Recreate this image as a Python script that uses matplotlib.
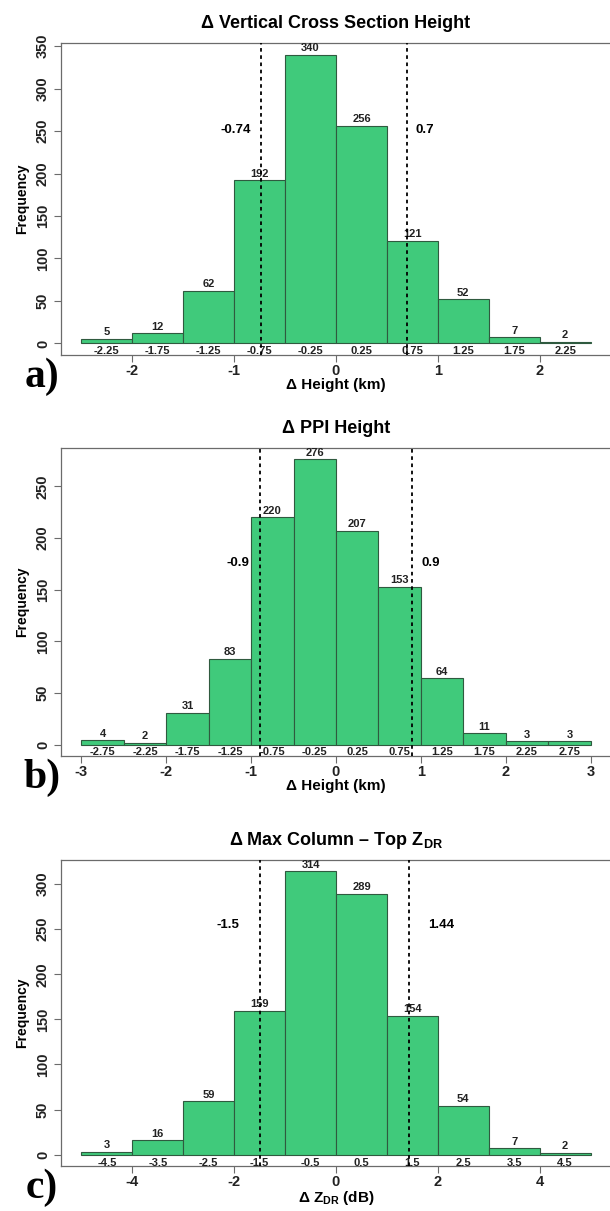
import matplotlib
matplotlib.use("Agg")
import matplotlib.pyplot as plt
import numpy as np

plt.rcParams['font.family'] = ['Liberation Sans', 'DejaVu Sans']
plt.rcParams['font.weight'] = 'bold'
plt.rcParams['mathtext.fontset'] = 'custom'
plt.rcParams['mathtext.rm'] = 'Liberation Sans:bold'
plt.rcParams['mathtext.it'] = 'Liberation Sans:bold'
plt.rcParams['mathtext.bf'] = 'Liberation Sans:bold'

# ---- data -------------------------------------------------------------
edges_a = [-2.5, -2.0, -1.5, -1.0, -0.5, 0.0, 0.5, 1.0, 1.5, 2.0, 2.5]
counts_a = [5, 12, 62, 192, 340, 256, 121, 52, 7, 2]
bin_labels_a = ["-2.25", "-1.75", "-1.25", "-0.75", "-0.25", "0.25", "0.75", "1.25", "1.75", "2.25"]
bounds_a = [-0.74, 0.7]
bound_labels_a = ["-0.74", "0.7"]
xticks_a = [-2, -1, 0, 1, 2]
yticks_a = [0, 50, 100, 150, 200, 250, 300, 350]

edges_b = [-3.0, -2.5, -2.0, -1.5, -1.0, -0.5, 0.0, 0.5, 1.0, 1.5, 2.0, 2.5, 3.0]
counts_b = [4, 2, 31, 83, 220, 276, 207, 153, 64, 11, 3, 3]
bin_labels_b = ["-2.75", "-2.25", "-1.75", "-1.25", "-0.75", "-0.25", "0.25", "0.75",
                "1.25", "1.75", "2.25", "2.75"]
bounds_b = [-0.9, 0.9]
bound_labels_b = ["-0.9", "0.9"]
xticks_b = [-3, -2, -1, 0, 1, 2, 3]
yticks_b = [0, 50, 100, 150, 200, 250]

edges_c = [-5, -4, -3, -2, -1, 0, 1, 2, 3, 4, 5]
counts_c = [3, 16, 59, 159, 314, 289, 154, 54, 7, 2]
bin_labels_c = ["-4.5", "-3.5", "-2.5", "-1.5", "-0.5", "0.5", "1.5", "2.5", "3.5", "4.5"]
bounds_c = [-1.5, 1.44]
bound_labels_c = ["-1.5", "1.44"]
xticks_c = [-4, -2, 0, 2, 4]
yticks_c = [0, 50, 100, 150, 200, 250, 300]

titles = ["\u0394 Vertical Cross Section Height",
          "\u0394 PPI Height",
          "\u0394 Max Column \u2013 Top Z$_{\\mathrm{DR}}$"]
xlabels = ["\u0394 Height (km)", "\u0394 Height (km)", "\u0394 Z$_{\\mathrm{DR}}$ (dB)"]
panel_tags = ["a)", "b)", "c)"]

# ---- layout (pixels) ---------------------------------------------------
W, H = 610, 1211
BAR_COLOR = "#40CA7B"
EDGE_COLOR = "#2F5A3F"
FRAME_COLOR = "#6B6B6B"

fig = plt.figure(figsize=(W / 100, H / 100), dpi=100)


def rect(left, top, right, bottom):
    return [left / W, 1 - bottom / H, (right - left) / W, (bottom - top) / H]


panels = [
    dict(edges=edges_a, counts=counts_a, blabels=bin_labels_a, bounds=bounds_a,
         bound_labels=bound_labels_a, xticks=xticks_a, yticks=yticks_a,
         box=(61, 43, 611, 355), label_y=251, lab_gap=0.09),
    dict(edges=edges_b, counts=counts_b, blabels=bin_labels_b, bounds=bounds_b,
         bound_labels=bound_labels_b, xticks=xticks_b, yticks=yticks_b,
         box=(61, 448, 611, 756), label_y=176, lab_gap=0.1),
    dict(edges=edges_c, counts=counts_c, blabels=bin_labels_c, bounds=bounds_c,
         bound_labels=bound_labels_c, xticks=xticks_c, yticks=yticks_c,
         box=(61, 860, 611, 1166), label_y=254, lab_gap=0.2),
]

for i, p in enumerate(panels):
    ax = fig.add_axes(rect(*p["box"]))
    edges = np.array(p["edges"], dtype=float)
    counts = np.array(p["counts"], dtype=float)
    widths = np.diff(edges)
    centers = edges[:-1] + widths / 2

    ax.bar(edges[:-1], counts, width=widths, align="edge",
           color=BAR_COLOR, edgecolor=EDGE_COLOR, linewidth=0.8, zorder=2)

    # R-style 4% padding on both axes
    span = edges[-1] - edges[0]
    ax.set_xlim(edges[0] - 0.04 * span, edges[-1] + 0.04 * span)
    ymax = counts.max()
    ax.set_ylim(-0.04 * ymax, 1.04 * ymax)

    # counts above bars, bin centres just under the baseline
    for x, c in zip(centers, counts):
        ax.text(x, c + 0.006 * ymax, f"{int(c)}", ha="center", va="bottom",
                fontsize=8, fontweight="bold", color="#222222", zorder=3)
    for x, lab in zip(centers, p["blabels"]):
        ax.text(x, -0.01 * ymax, lab, ha="center", va="top",
                fontsize=8, fontweight="bold", color="#222222", zorder=3)

    # dotted bounds with their values
    lo, hi = p["bounds"]
    for b in (lo, hi):
        ax.axvline(b, color="black", linestyle=(0, (2.0, 2.0)), linewidth=1.3, zorder=4)
    ax.text(lo - p["lab_gap"] * (span / 5), p["label_y"], p["bound_labels"][0],
            ha="right", va="center", fontsize=9.5, fontweight="bold")
    ax.text(hi + p["lab_gap"] * (span / 5) * 0.9, p["label_y"], p["bound_labels"][1],
            ha="left", va="center", fontsize=9.5, fontweight="bold")

    ax.set_xticks(p["xticks"])
    ax.set_xticklabels([f"{t:g}" for t in p["xticks"]])
    ax.set_yticks(p["yticks"])
    ax.set_yticklabels([str(t) for t in p["yticks"]], rotation=90, va="center")
    ax.tick_params(axis="both", colors=FRAME_COLOR, labelcolor="#222222",
                   labelsize=10.5, length=5, width=0.8, pad=3)
    ax.tick_params(axis="x", pad=1.5)
    for s in ax.spines.values():
        s.set_color(FRAME_COLOR)
        s.set_linewidth(0.9)

    ax.set_ylabel("Frequency", fontsize=10, fontweight="bold", labelpad=5)
    ax.set_xlabel(xlabels[i], fontsize=11, fontweight="bold", labelpad=0)
    ax.set_title(titles[i], fontsize=13, fontweight="bold", pad=11)

    left, top, right, bottom = p["box"]
    fig.text(42 / W, 1 - (bottom + 22) / H, panel_tags[i], ha="center", va="center",
             fontsize=30, fontweight="bold", family="Liberation Serif")

fig.savefig("out.png", dpi=100, facecolor="white")
